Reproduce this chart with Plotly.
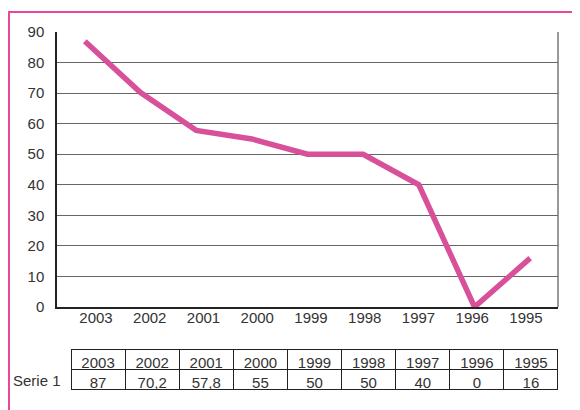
import plotly.graph_objects as go

years = ["2003", "2002", "2001", "2000", "1999", "1998", "1997", "1996", "1995"]
serie1 = [87, 70.2, 57.8, 55, 50, 50, 40, 0, 16]
series_name = "Serie 1"
y_ticks = [0, 10, 20, 30, 40, 50, 60, 70, 80, 90]

W, H = 580, 410
OFF = 8  # page body margin
def px_x(p): return (p - OFF) / W
def px_y(p): return 1 - (p - OFF) / H

FONT = "Liberation Sans, Arial, Helvetica, sans-serif"
TXT = "#333333"
LINE = "#d8509a"
BORDER = "#e8479f"
FS = 15

idx = list(range(len(years)))

fig = go.Figure()
fig.add_trace(go.Scatter(
    x=years, y=serie1, mode="lines",
    line=dict(color=LINE, width=5.5),
    showlegend=False, hoverinfo="skip",
))
# invisible trace carrying the category label axis
fig.add_trace(go.Scatter(
    x=idx, y=serie1, mode="lines", xaxis="x2",
    line=dict(width=0, color="rgba(0,0,0,0)"),
    showlegend=False, hoverinfo="skip",
))

fig.add_trace(go.Table(
    domain=dict(x=[px_x(71), px_x(559)], y=[px_y(390), px_y(349)]),
    columnwidth=[1] * len(years),
    header=dict(
        values=years, height=20, align="center",
        line=dict(color="#222222", width=1), fill=dict(color="white"),
        font=dict(family=FONT, size=FS, color=TXT),
    ),
    cells=dict(
        values=[[str(v).replace(".", ",")] for v in serie1], height=20, align="center",
        line=dict(color="#222222", width=1), fill=dict(color="white"),
        font=dict(family=FONT, size=FS, color=TXT),
    ),
))

x0, x1 = 57, 558
label_first, label_last = 96, 526
unit = (label_last - label_first) / (len(years) - 1)
r0 = -(label_first - x0) / unit
r1 = (len(years) - 1) + (x1 - label_last) / unit

fig.update_layout(
    width=W, height=H,
    margin=dict(l=0, r=0, t=0, b=0, autoexpand=False),
    paper_bgcolor="white", plot_bgcolor="white",
    font=dict(family=FONT, size=FS, color=TXT),
    xaxis=dict(
        domain=[px_x(x0), px_x(x1)], type="category",
        range=[-0.5, len(years) - 0.5],
        showticklabels=False, showgrid=False, zeroline=False,
        showline=True, linecolor="#222222", linewidth=1.5, mirror=False,
        anchor="y", automargin=False,
    ),
    xaxis2=dict(
        domain=[px_x(x0), px_x(x1)], overlaying="x", anchor="y", side="bottom",
        range=[r0, r1], tickvals=idx, ticktext=years,
        showgrid=False, zeroline=False, showline=False, automargin=False,
        tickfont=dict(family=FONT, size=FS, color=TXT),
    ),
    yaxis=dict(
        domain=[px_y(307), px_y(32)], range=[0, 90],
        tickvals=y_ticks, showgrid=True, gridcolor="#666666", gridwidth=1,
        zeroline=False, showline=True, linecolor="#222222", linewidth=1.5,
        ticklabelstandoff=8, automargin=False,
        tickfont=dict(family=FONT, size=FS, color=TXT),
    ),
    shapes=[
        dict(type="line", xref="paper", yref="paper",
             x0=px_x(x1), x1=px_x(x1), y0=px_y(307), y1=px_y(32),
             line=dict(color="#777777", width=1.5)),
        dict(type="rect", xref="paper", yref="paper",
             x0=px_x(8) + 1 / W, x1=1.05, y0=-0.05, y1=px_y(12),
             line=dict(color=BORDER, width=2)),
    ],
    annotations=[
        dict(text=series_name, xref="paper", yref="paper",
             x=px_x(11), y=px_y(380), xanchor="left", yanchor="middle",
             showarrow=False, font=dict(family=FONT, size=FS, color=TXT)),
    ],
)

fig.write_html("out.html")
